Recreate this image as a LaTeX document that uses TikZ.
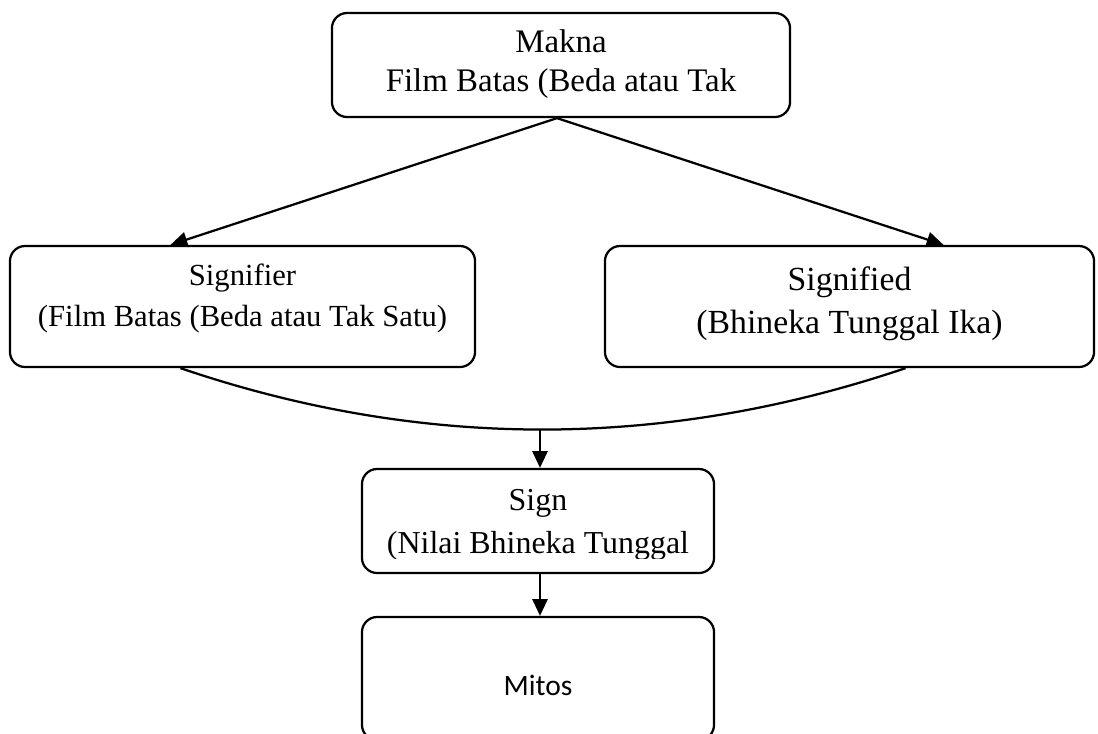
\documentclass[tikz,border=0pt]{standalone}
\usepackage{fontspec}
\setmainfont{Liberation Serif}
\newfontfamily\mitosfont{Carlito}
\usetikzlibrary{arrows.meta,calc}

\begin{document}
\begin{tikzpicture}[
		x=0.025cm, y=-0.025cm,
		box/.style={rectangle, draw, line width=1.6pt, rounded corners=0.38cm, inner sep=0pt},
		label/.style={align=center, inner sep=0pt},
		arrow/.style={-{Triangle[length=0.42cm,width=0.38cm]}, line width=1.6pt}
	]
		\useasboundingbox (0,0) rectangle (1098,733);
		
		% Boxes
		\node[box, minimum width=11.45cm, minimum height=2.6cm] (makna) at (561,65) {};
		\node[box, minimum width=11.625cm, minimum height=3.025cm] (signifier) at (242.5,306.5) {};
		\node[box, minimum width=12.225cm, minimum height=3.025cm] (signified) at (849.5,306.5) {};
		\node[box, minimum width=8.8cm, minimum height=2.6cm] (sign) at (538,521) {};
		\node[box, minimum width=8.8cm, minimum height=3.075cm] (mitos) at (538,678.5) {};
		
		% Texts
		\node[label, font=\fontsize{23.4}{27.7}\selectfont] (maknatext) at ($(makna)+(0,-1)$) {Makna\\Film Batas (Beda atau Tak};
		\node[label, font=\fontsize{21.8}{29.5}\selectfont] (signifiertext) at ($(signifier)+(0,-8)$) {Signifier\\(Film Batas (Beda atau Tak Satu)};
		\node[label, font=\fontsize{24}{30.5}\selectfont] (signifiedtext) at ($(signified)+(0,-3)$) {Signified\\(Bhineka Tunggal Ika)};
		\begin{scope}
			\clip (362,469) rectangle (714,558);
			\node[label, font=\fontsize{22.7}{30.5}\selectfont] (signtext) at ($(sign)+(0,4)$) {Sign\\(Nilai Bhineka Tunggal};
		\end{scope}
		\node[label, font=\mitosfont\fontsize{21}{26}\selectfont] (mitostext) at ($(mitos)+(0,7)$) {Mitos};
		
		% Arrows
		\coordinate (split) at ($(makna.south)+(-4,0)$);
		\coordinate (join) at (540,429);
		\draw[arrow] (split) -- ($(signifier.north)+(-72,0)$);
		\draw[arrow] (split) -- ($(signified.north)+(94,0)$);
		\draw[line width=1.6pt] ($(signifier.south)+(-62,0)$) .. controls (421,450) and (663,450) .. ($(signified.south)+(56,0)$);
		\draw[arrow] (join) -- (join |- sign.north);
		\draw[arrow] (sign.south -| join) -- (join |- mitos.north);
	\end{tikzpicture}
\end{document}
